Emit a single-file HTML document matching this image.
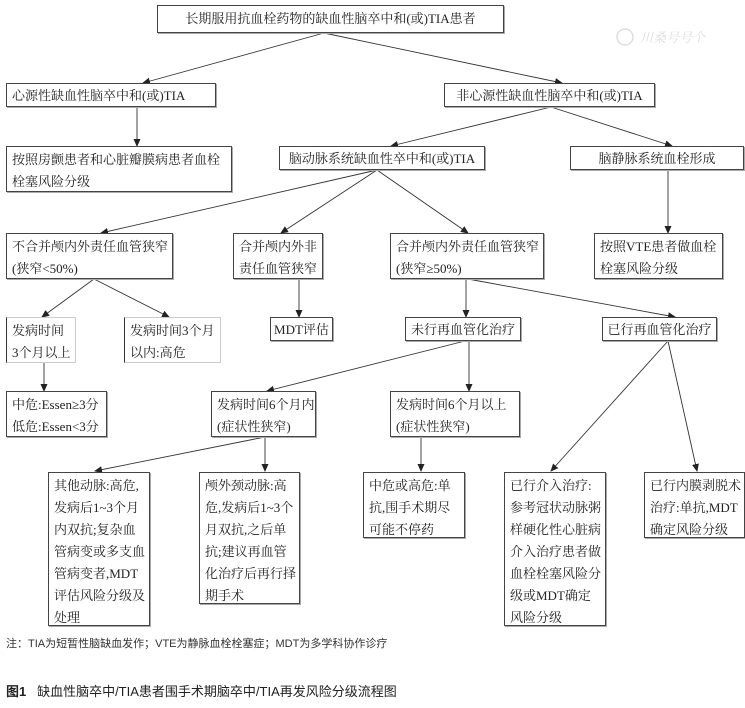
<!DOCTYPE html>
<html><head><meta charset="utf-8"><style>
html,body{margin:0;padding:0;background:#fff;}
body{width:745px;height:708px;position:relative;overflow:hidden;font-family:"Liberation Serif","Noto Serif CJK SC",serif;color:#222;}
.b{position:absolute;box-sizing:border-box;border:1px solid #444;box-shadow:1px 1px 0 #aaa;font-size:13px;line-height:22px;padding:0 0 0 5px;background:#fff;white-space:nowrap;}
.c{text-align:center;padding:0;}
.l{border-color:#ccc;border-left:1px solid #333;box-shadow:none;}
.m{padding-top:2px;}
svg{position:absolute;left:0;top:0;}
</style></head><body>
<svg width="745" height="708">
<defs><marker id="a" markerWidth="8" markerHeight="8" refX="7" refY="4" orient="auto" markerUnits="userSpaceOnUse"><path d="M0,0.5 L8,4 L0,7.5 z" fill="#222"/></marker></defs>
<g stroke="#333" stroke-width="0.9" fill="none" marker-end="url(#a)">
<line x1="324" y1="33" x2="143" y2="83"/>
<line x1="324" y1="33" x2="562" y2="83"/>
<line x1="137" y1="107" x2="137" y2="146"/>
<line x1="551" y1="107" x2="391" y2="146"/>
<line x1="551" y1="107" x2="672" y2="146"/>
<line x1="377" y1="170" x2="101" y2="233"/>
<line x1="377" y1="170" x2="281" y2="233"/>
<line x1="377" y1="170" x2="468" y2="233"/>
<line x1="668" y1="170" x2="668" y2="233"/>
<line x1="94" y1="279" x2="42" y2="317"/>
<line x1="94" y1="279" x2="169" y2="317"/>
<line x1="299" y1="279" x2="299" y2="317"/>
<line x1="466" y1="279" x2="466" y2="317"/>
<line x1="468" y1="279" x2="675" y2="317"/>
<line x1="44" y1="363" x2="44" y2="391"/>
<line x1="465" y1="341" x2="267" y2="391"/>
<line x1="469" y1="341" x2="469" y2="391"/>
<line x1="668" y1="341" x2="551" y2="471"/>
<line x1="668" y1="341" x2="697" y2="471"/>
<line x1="265" y1="437" x2="95" y2="471"/>
<line x1="265" y1="437" x2="265" y2="471"/>
<line x1="421" y1="437" x2="421" y2="471"/>
</g>
<circle cx="625" cy="37" r="8" fill="none" stroke="#ddd" stroke-width="1.5"/>
<text x="640" y="42" font-size="13" fill="#ddd" font-style="italic" font-family="Noto Serif CJK SC, serif">川桑号号个</text>
</svg>
<div class="b c" style="left:157px;top:5px;width:347px;height:28px;line-height:26px;">长期服用抗血栓药物的缺血性脑卒中和(或)TIA患者</div>
<div class="b" style="left:6px;top:83px;width:210px;height:24px;line-height:23px;">心源性缺血性脑卒中和(或)TIA</div>
<div class="b c" style="left:444px;top:83px;width:211px;height:24px;line-height:23px;">非心源性缺血性脑卒中和(或)TIA</div>
<div class="b m" style="left:6px;top:146px;width:226px;height:46px;">按照房颤患者和心脏瓣膜病患者血栓<br>栓塞风险分级</div>
<div class="b c" style="left:279px;top:146px;width:206px;height:24px;line-height:23px;">脑动脉系统缺血性卒中和(或)TIA</div>
<div class="b c" style="left:570px;top:146px;width:174px;height:24px;line-height:23px;">脑静脉系统血栓形成</div>
<div class="b m" style="left:6px;top:233px;width:167px;height:46px;">不合并颅内外责任血管狭窄<br>(狭窄&lt;50%)</div>
<div class="b m" style="left:233px;top:233px;width:90px;height:46px;">合并颅内外非<br>责任血管狭窄</div>
<div class="b m" style="left:390px;top:233px;width:154px;height:46px;">合并颅内外责任血管狭窄<br>(狭窄≥50%)</div>
<div class="b m" style="left:594px;top:233px;width:129px;height:46px;">按照VTE患者做血栓<br>栓塞风险分级</div>
<div class="b l m" style="left:6px;top:317px;width:70px;height:46px;">发病时间<br>3个月以上</div>
<div class="b l m" style="left:124px;top:317px;width:97px;height:46px;">发病时间3个月<br>以内:高危</div>
<div class="b c" style="left:270px;top:317px;width:63px;height:24px;line-height:23px;">MDT评估</div>
<div class="b c" style="left:405px;top:317px;width:116px;height:24px;line-height:23px;">未行再血管化治疗</div>
<div class="b c" style="left:602px;top:317px;width:115px;height:24px;line-height:23px;">已行再血管化治疗</div>
<div class="b m" style="left:6px;top:391px;width:101px;height:46px;">中危:Essen≥3分<br>低危:Essen&lt;3分</div>
<div class="b m" style="left:211px;top:391px;width:105px;height:46px;">发病时间6个月内<br>(症状性狭窄)</div>
<div class="b m" style="left:390px;top:391px;width:130px;height:46px;">发病时间6个月以上<br>(症状性狭窄)</div>
<div class="b m" style="left:48px;top:472px;width:102px;height:154px;">其他动脉:高危,<br>发病后1~3个月<br>内双抗;复杂血<br>管病变或多支血<br>管病变者,MDT<br>评估风险分级及<br>处理</div>
<div class="b m" style="left:199px;top:472px;width:101px;height:132px;">颅外颈动脉:高<br>危,发病后1~3个<br>月双抗,之后单<br>抗;建议再血管<br>化治疗后再行择<br>期手术</div>
<div class="b m" style="left:363px;top:472px;width:102px;height:66px;">中危或高危:单<br>抗,围手术期尽<br>可能不停药</div>
<div class="b m" style="left:504px;top:472px;width:102px;height:154px;">已行介入治疗:<br>参考冠状动脉粥<br>样硬化性心脏病<br>介入治疗患者做<br>血栓栓塞风险分<br>级或MDT确定<br>风险分级</div>
<div class="b m" style="left:644px;top:472px;width:101px;height:66px;">已行内膜剥脱术<br>治疗:单抗,MDT<br>确定风险分级</div>
<div style="position:absolute;left:6px;top:635px;font-family:'Liberation Sans','Noto Sans CJK SC',sans-serif;font-size:11px;color:#333;">注：TIA为短暂性脑缺血发作；VTE为静脉血栓栓塞症；MDT为多学科协作诊疗</div>
<div style="position:absolute;left:6px;top:681px;font-family:'Liberation Sans','Noto Sans CJK SC',sans-serif;font-size:13px;color:#222;"><b>图1</b>&nbsp;&nbsp;&nbsp;缺血性脑卒中/TIA患者围手术期脑卒中/TIA再发风险分级流程图</div>
</body></html>
